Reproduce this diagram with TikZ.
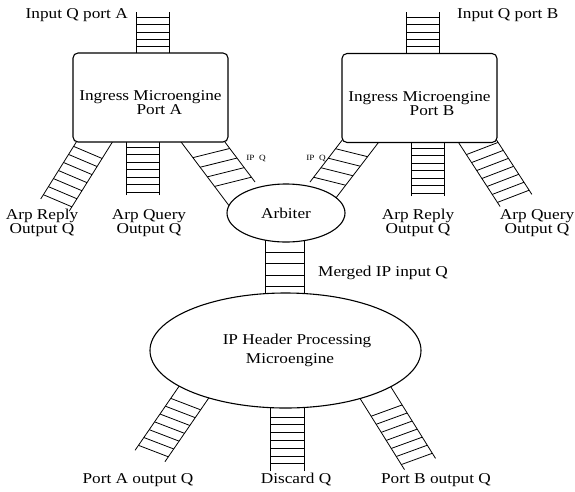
\documentclass[tikz,border=0pt]{standalone}
\usepackage{fontspec}
\setmainfont{Liberation Serif}[FakeStretch=1.15]
\usetikzlibrary{shapes.geometric}

\tikzset{
  % #1 rail angle, #2 rung angle, #3 width, #4 rail length, #5 rung positions
  pics/queue/.style n args={5}{code={
    \begin{scope}[x={(#2:1pt)},y={(#1:1pt)}]
      \coordinate (-end) at (0,0);
      \coordinate (-a) at (-#3/2,0);
      \coordinate (-b) at (#3/2,0);
      \draw[rail] (-#3/2,0) -- (-#3/2,#4) (#3/2,0) -- (#3/2,#4);
      \foreach \v in {#5} \draw[rail] (-#3/2,\v) -- (#3/2,\v);
    \end{scope}
  }}
}

\begin{document}
\begin{tikzpicture}[x=1pt,y=-1pt,
  every node/.style={font=\fontsize{15}{14}\selectfont,align=center,inner sep=0pt},
  engine/.style={draw=black,line width=1.1pt,fill=white,rounded corners=5pt,
    minimum width=155pt,minimum height=89pt,text height=35pt},
  oval/.style={draw=black,line width=1.1pt,fill=white,ellipse},
  rail/.style={line width=0.8pt},
  small/.style={font=\fontsize{8}{9}\selectfont}
 ]
  \useasboundingbox (0,0) rectangle (575,491);
  % queues
  \pic (inqA) at (152.5,12) {queue={-90}{0}{33}{51}{5.3,12.6,...,35}};
  \pic (inqB) at (422.5,12) {queue={-90}{0}{33}{52}{5.3,12.6,...,35}};
  \pic (arprA) at (55,205) {queue={58}{-23}{31}{85}{5,14.5,...,62.5}};
  \pic (arpqA) at (142.5,195) {queue={90}{0}{33}{63}{3,10.5,...,48.5}};
  \pic (ipqA) at (236.6,186.6) {queue={127}{14}{38}{75}{6,18,30,42}};
  \pic (ipqB) at (326,186) {queue={52.5}{-14}{33}{75}{6,18,30,42}};
  \pic (arprB) at (427.5,196) {queue={90}{0}{33}{63}{3,10.5,...,48.5}};
  \pic (arpqB) at (516,200.5) {queue={123}{21}{34}{82}{5,14.5,...,62.5}};
  \pic (mrg) at (284.5,296) {queue={90}{0}{39}{66}{9.5,21,32.5,44}};
  \pic (poutA) at (150,456) {queue={55.5}{-21}{32}{89}{6,15.5,...,63.5}};
  \pic (dsc) at (287,471) {queue={90}{0}{34}{73}{7.2,15,...,54.5}};
  \pic (poutB) at (420,464) {queue={122}{20}{33}{95}{6,15.5,...,63.5}};
  \draw[rail] (ipqA-a) -- ++(-53:28pt);
  \draw[rail] (ipqB-b) -- ++(-127.5:16pt);
  % engines
  \node[engine] (ingA) at (150.5,97.5) {Ingress Microengine\\\hspace*{17.6pt}Port A};
  \node[engine] (ingB) at (419.5,98) {Ingress Microengine\\\hspace*{25pt}Port B};
  \node[oval,minimum width=118pt,minimum height=58pt] (arb) at (286,213) {Arbiter};
  \node[oval,minimum width=271pt,minimum height=115pt] (iph) at (285.5,350.5)
    {\hspace*{23pt}IP Header Processing\\[5pt]\hspace*{9pt}Microengine};
  % labels
  \node[anchor=east] (inAlbl) at (128,15) {Input Q port A};
  \node[anchor=west] (inBlbl) at (457,15) {Input Q port B};
  \node (arprAlbl) at (42,223) {Arp Reply\\Output Q};
  \node (arpqAlbl) at (149,223) {Arp Query\\Output Q};
  \node (arprBlbl) at (418,223) {Arp Reply\\Output Q};
  \node (arpqBlbl) at (537,223) {Arp Query\\Output Q};
  \node[small] (ipqAlbl) at (256,158) {IP~~Q};
  \node[small] (ipqBlbl) at (316,158) {IP~~Q};
  \node[anchor=west] (mrglbl) at (318,273) {Merged IP input Q};
  \node (poutAlbl) at (138,480) {Port A output Q};
  \node (dsclbl) at (296,480) {Discard Q};
  \node (poutBlbl) at (436,480) {Port B output Q};
 \end{tikzpicture}
\end{document}
